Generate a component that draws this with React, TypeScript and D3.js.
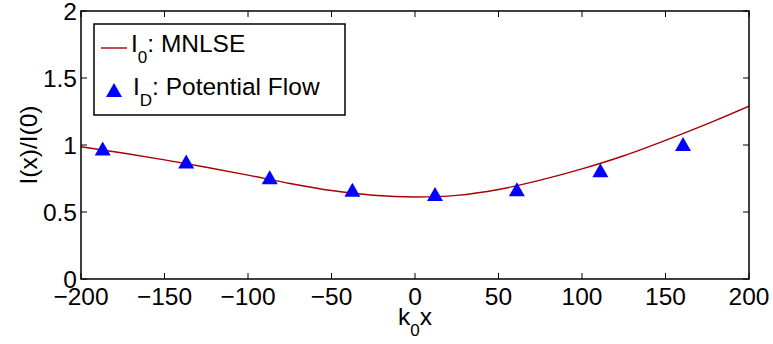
import React from "react";
import * as d3 from "d3";

const curveX = [-200, -175, -150, -125, -100, -75, -50, -25, 0, 25, 50, 75, 100, 125, 150, 175, 200];
const curveY = [0.987, 0.94, 0.889, 0.834, 0.775, 0.713, 0.66, 0.625, 0.612, 0.624, 0.668, 0.738, 0.822, 0.92, 1.035, 1.158, 1.29];
const markerX = [-187, -137, -87, -37.5, 12, 61, 111, 160.5];
const markerY = [0.974, 0.877, 0.759, 0.666, 0.634, 0.669, 0.811, 1.008];
const xTicks = [-200, -150, -100, -50, 0, 50, 100, 150, 200];
const yTicks = [0, 0.5, 1, 1.5, 2];

const W = 773, H = 344;
const L = 81, R = 749, T = 11, B = 279;
const FONT = "'Liberation Sans', Arial, Helvetica, sans-serif";
const LINE_COLOR = "#a80000";

function tri(cx: number, cy: number, w = 16, h = 14) {
  return `M${cx},${cy - h / 2}L${cx + w / 2},${cy + h / 2}L${cx - w / 2},${cy + h / 2}Z`;
}

export default function App() {
  const x = d3.scaleLinear().domain([-200, 200]).range([L, R]);
  const y = d3.scaleLinear().domain([0, 2]).range([B, T]);
  const pts: [number, number][] = curveX.map((v, i) => [v, curveY[i]]);
  const line = d3.line<[number, number]>().x(d => x(d[0])).y(d => y(d[1])).curve(d3.curveCatmullRom);
  const tl = 6;
  const fmt = (v: number) => (v < 0 ? "\u2212" + Math.abs(v) : String(v));
  return (
    <svg width={W} height={H} style={{ position: "absolute", left: 0, top: 0, background: "#fff" }} fontFamily={FONT}>
      <rect x={0} y={0} width={W} height={H} fill="#fff" />
      <defs>
        <clipPath id="clip"><rect x={L} y={T} width={R - L} height={B - T} /></clipPath>
      </defs>
      <path d={line(pts) || ""} fill="none" stroke={LINE_COLOR} strokeWidth={1.4} clipPath="url(#clip)" />
      {markerX.map((v, i) => (
        <path key={i} d={tri(x(v), y(markerY[i]))} fill="#0000ff" />
      ))}
      <rect x={L} y={T} width={R - L} height={B - T} fill="none" stroke="#000" strokeWidth={1.5} />
      {xTicks.map(t => (
        <g key={"x" + t}>
          <line x1={x(t)} x2={x(t)} y1={B} y2={B - tl} stroke="#000" strokeWidth={1} />
          <line x1={x(t)} x2={x(t)} y1={T} y2={T + tl} stroke="#000" strokeWidth={1} />
          <text x={x(t)} y={305} fontSize={24.5} textAnchor="middle">{fmt(t)}</text>
        </g>
      ))}
      {yTicks.map(t => (
        <g key={"y" + t}>
          <line x1={L} x2={L + tl} y1={y(t)} y2={y(t)} stroke="#000" strokeWidth={1} />
          <line x1={R} x2={R - tl} y1={y(t)} y2={y(t)} stroke="#000" strokeWidth={1} />
          <text x={77} y={y(t) + 8.5} fontSize={24.5} textAnchor="end">{String(t)}</text>
        </g>
      ))}
      <text x={398} y={325} fontSize={24.5}>k<tspan fontSize={17} dy={11}>0</tspan><tspan dy={-11}>x</tspan></text>
      <text transform="translate(37,145) rotate(-90)" fontSize={24.5} textAnchor="middle">I(x)/I(0)</text>
      <rect x={94} y={24} width={251} height={91} fill="#fff" stroke="#000" strokeWidth={1.5} />
      <line x1={101} x2={127} y1={48} y2={48} stroke={LINE_COLOR} strokeWidth={1.4} />
      <text x={131} y={52} fontSize={24.5}>I<tspan fontSize={17} dy={11}>0</tspan><tspan dy={-11}>: MNLSE</tspan></text>
      <path d={tri(114, 90)} fill="#0000ff" />
      <text x={133} y={95} fontSize={24.5}>I<tspan fontSize={17} dy={11}>D</tspan><tspan dy={-11}>: Potential Flow</tspan></text>
    </svg>
  );
}
